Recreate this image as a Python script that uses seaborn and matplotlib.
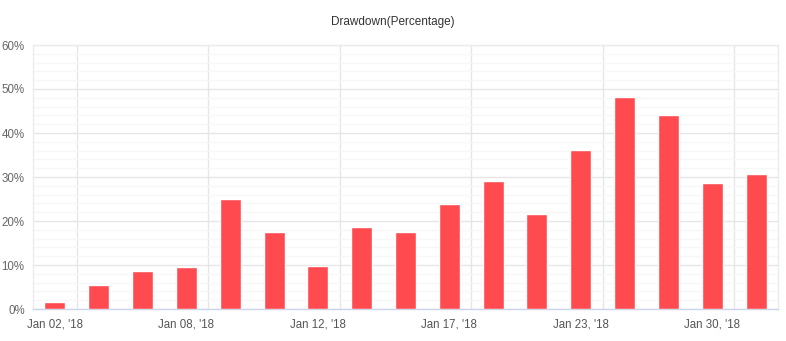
import matplotlib
matplotlib.use("Agg")
import matplotlib.pyplot as plt
import seaborn as sns
import pandas as pd
import numpy as np
from matplotlib.ticker import MultipleLocator, FuncFormatter

# Daily drawdown readings, January 2018
dates = ["Jan 02, '18", "Jan 03, '18", "Jan 05, '18", "Jan 08, '18", "Jan 09, '18",
         "Jan 10, '18", "Jan 12, '18", "Jan 15, '18", "Jan 16, '18", "Jan 17, '18",
         "Jan 19, '18", "Jan 22, '18", "Jan 23, '18", "Jan 25, '18", "Jan 26, '18",
         "Jan 30, '18", "Jan 31, '18"]
drawdown = [1.7, 5.4, 8.6, 9.5, 24.9, 17.4, 9.7, 18.6, 17.4, 23.9,
            29.2, 21.5, 36.1, 48.2, 44.1, 28.6, 30.6]
label_step = 3

df = pd.DataFrame({"date": dates, "drawdown": drawdown})

sns.set_theme(style="white")
plt.rcParams["font.family"] = ["Liberation Sans", "DejaVu Sans"]

fig = plt.figure(figsize=(7.86, 3.41), dpi=100)
ax = fig.add_axes([33 / 786, 32 / 341, 745 / 786, 264 / 341])

sns.barplot(data=df, x="date", y="drawdown", order=dates, color="#FF4B50",
            saturation=1, width=0.48, ax=ax, zorder=3)

n = len(dates)
ax.set_xlim(-0.5, n - 0.5)
ax.set_ylim(0, 60)

# y grid: major every 10%, faint minor every 2%
ax.yaxis.set_major_locator(MultipleLocator(10))
ax.yaxis.set_minor_locator(MultipleLocator(2))
ax.yaxis.set_major_formatter(FuncFormatter(lambda v, p: f"{int(v)}%"))
ax.grid(axis="y", which="major", color="#e6e6e6", linewidth=1, zorder=0)
ax.grid(axis="y", which="minor", color="#f7f7f7", linewidth=1, zorder=0)

# labelled categories every third bar, separators between groups
label_pos = list(range(0, n, label_step))
ax.set_xticks(label_pos)
ax.set_xticklabels([dates[i] for i in label_pos])
for b in np.arange(0.5, n, label_step):
    ax.axvline(b, color="#e6e6e6", linewidth=1, zorder=0)

for s in ["top", "left", "right"]:
    ax.spines[s].set_visible(True)
    ax.spines[s].set_color("#ececec")
    ax.spines[s].set_linewidth(1)
ax.spines["bottom"].set_color("#ccd6eb")
ax.spines["bottom"].set_linewidth(1)

ax.tick_params(axis="x", length=0, pad=7, labelsize=8.3, colors="#555555")
ax.tick_params(axis="y", length=0, pad=6, labelsize=8.3, colors="#666666")
ax.tick_params(axis="y", which="minor", length=0)
ax.set_xlabel("")
ax.set_ylabel("")

fig.text(0.5, 1 - 22 / 341, "Drawdown(Percentage)", ha="center", va="center",
         fontsize=8.5, color="#333333")

fig.savefig("out.png", dpi=100)
